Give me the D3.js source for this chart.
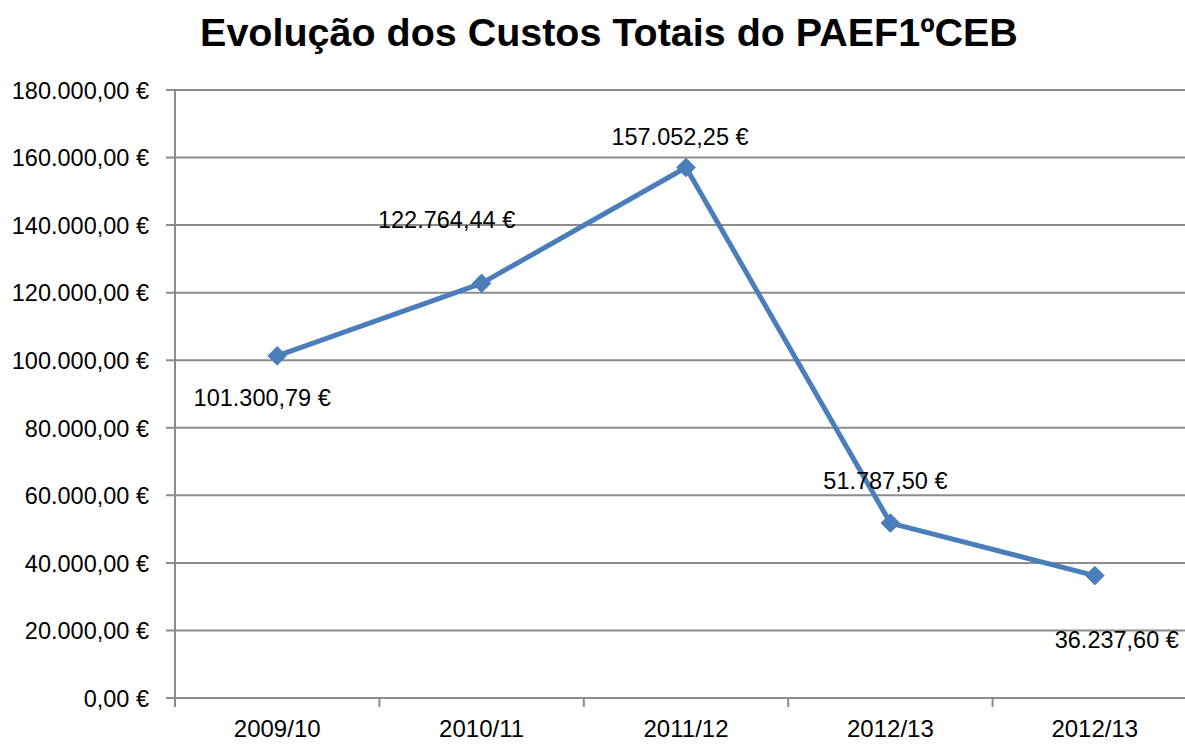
<!DOCTYPE html>
<html>
<head>
<meta charset="utf-8">
<script src="https://cdn.jsdelivr.net/npm/d3@7"></script>
<style>
  body { margin: 0; background: #fff; }
  svg { display: block; font-family: "Liberation Sans", Arial, sans-serif; }
</style>
</head>
<body>
<div id="viz"></div>
<script>
var width = 1185;
var height = 745;
var margin = {top: 90, right: -12, bottom: 47, left: 175};

var categories = ['2009/10', '2010/11', '2011/12', '2012/13', '2012/13'];
var values = [101300.79, 122764.44, 157052.25, 51787.50, 36237.60];
var yTicks = [0, 20000, 40000, 60000, 80000, 100000, 120000, 140000, 160000, 180000];
// label offsets relative to the point (as placed in the original chart)
var labelDx = [-15, -35, -6, -5, 22];
var labelDy = [42, -64, -31, -42, 64];

var fmt = function(v) {
  var s = v.toFixed(2).split('.');
  var intPart = s[0].replace(/\B(?=(\d{3})+(?!\d))/g, '.');
  return intPart + ',' + s[1] + ' €';
};

var plotW = width - margin.left - margin.right;
var plotH = height - margin.top - margin.bottom;

var svg = d3.select('#viz')
  .append('svg')
  .attr('width', width)
  .attr('height', height);

var g = svg.append('g')
  .attr('transform', 'translate(' + margin.left + ',' + margin.top + ')');

var x = d3.scaleBand()
  .domain(d3.range(categories.length))
  .range([0, plotW]);

var y = d3.scaleLinear()
  .domain([0, 180000])
  .range([plotH, 0]);

// gridlines
g.append('g')
  .selectAll('line').data(yTicks)
  .enter().append('line')
  .attr('x1', -9)
  .attr('x2', width - margin.left)
  .attr('y1', d => y(d))
  .attr('y2', d => y(d))
  .attr('stroke', '#8c8c8c')
  .attr('stroke-width', 2);

// y axis
var yAxis = g.append('g')
  .call(d3.axisLeft(y).tickValues(yTicks).tickFormat(fmt).tickSize(9).tickPadding(17));
yAxis.select('.domain').attr('stroke', '#8c8c8c').attr('stroke-width', 2).attr('d', 'M0,0V' + plotH);
yAxis.selectAll('.tick line').remove();
yAxis.selectAll('text').attr('font-size', 23.5).attr('fill', '#000').attr('dy', '0.35em');

// x axis
var xAxis = g.append('g')
  .attr('transform', 'translate(0,' + plotH + ')')
  .call(d3.axisBottom(x).tickFormat(i => categories[i]).tickSize(0).tickPadding(22));
xAxis.select('.domain').remove();
xAxis.selectAll('text').attr('font-size', 24).attr('fill', '#000');

// x ticks at band edges
g.append('g')
  .selectAll('line').data(d3.range(categories.length + 1))
  .enter().append('line')
  .attr('x1', d => d * x.bandwidth())
  .attr('x2', d => d * x.bandwidth())
  .attr('y1', plotH)
  .attr('y2', plotH + 9)
  .attr('stroke', '#8c8c8c')
  .attr('stroke-width', 2);

var cx = function(i) { return x(i) + x.bandwidth() / 2; };

var line = d3.line()
  .x((d, i) => cx(i))
  .y(d => y(d));

g.append('path')
  .datum(values)
  .attr('fill', 'none')
  .attr('stroke', '#4a7ebb')
  .attr('stroke-width', 5)
  .attr('stroke-linejoin', 'round')
  .attr('d', line);

g.append('g')
  .selectAll('path').data(values)
  .enter().append('path')
  .attr('d', d3.symbol().type(d3.symbolDiamond2).size(220))
  .attr('transform', (d, i) => 'translate(' + cx(i) + ',' + y(d) + ')')
  .attr('fill', '#4a7ebb')
  .attr('stroke', '#4a7ebb')
  .attr('stroke-width', 1);

g.append('g')
  .selectAll('text').data(values)
  .enter().append('text')
  .attr('x', (d, i) => cx(i) + labelDx[i])
  .attr('y', (d, i) => y(d) + labelDy[i])
  .attr('dy', '0.35em')
  .attr('text-anchor', 'middle')
  .attr('font-size', 23.5)
  .attr('fill', '#000')
  .text(d => fmt(d));

var title = svg.append('text')
  .attr('x', 609)
  .attr('y', 46)
  .attr('text-anchor', 'middle')
  .attr('font-family', '"Liberation Sans Narrow", "Liberation Sans", sans-serif')
  .attr('font-size', 48)
  .attr('font-weight', 'bold')
  .attr('fill', '#000')
  .text('Evolução dos Custos Totais do PAEF1ºCEB');

// fit title to the original width if the narrow face is missing
var tw = title.node().getComputedTextLength();
if (tw > 830) title.attr('font-size', 48 * 818 / tw);
</script>
</body>
</html>
